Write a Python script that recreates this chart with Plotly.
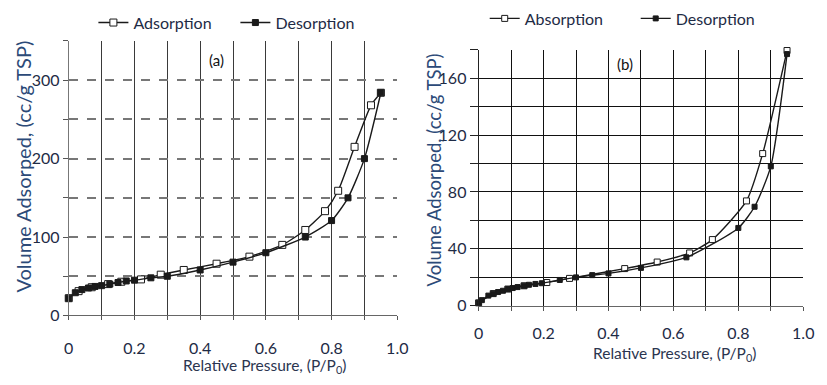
import plotly.graph_objects as go

# ---- Panel (a) data ----
a_ads_x = [0.0, 0.03, 0.07, 0.12, 0.16, 0.22, 0.28, 0.35, 0.45, 0.55, 0.65, 0.72, 0.78, 0.82, 0.87, 0.92, 0.95]
a_ads_y = [22, 31, 36, 40, 43, 46, 52, 58, 66, 75, 90, 109, 133, 159, 215, 268, 284]
a_des_x = [0.0, 0.02, 0.04, 0.06, 0.08, 0.1, 0.125, 0.15, 0.175, 0.2, 0.25, 0.3, 0.4, 0.5, 0.6, 0.72, 0.8, 0.85, 0.9, 0.95]
a_des_y = [22, 29, 33, 35, 37, 38, 40, 42, 44, 45, 48, 50, 58, 68, 80, 100, 121, 150, 200, 284]

# ---- Panel (b) data ----
b_ads_x = [0.0, 0.045, 0.09, 0.14, 0.21, 0.28, 0.45, 0.55, 0.65, 0.72, 0.825, 0.875, 0.95]
b_ads_y = [2, 8.5, 11.7, 14, 16.3, 19.2, 26.1, 30.7, 37.1, 46.5, 73.7, 107, 179.5]
b_des_x = [0.0, 0.01, 0.03, 0.045, 0.06, 0.075, 0.09, 0.105, 0.12, 0.14, 0.155, 0.175, 0.195, 0.25, 0.3, 0.35, 0.4, 0.5, 0.64, 0.8, 0.85, 0.9, 0.95]
b_des_y = [2, 3.9, 7.1, 8.5, 9.6, 10.5, 11.7, 12.4, 13.1, 14, 14.7, 15.3, 15.8, 18.1, 19.9, 21.5, 22.7, 26.6, 34, 54.7, 69.6, 98, 177]

x_ticks = [0, 0.1, 0.2, 0.3, 0.4, 0.5, 0.6, 0.7, 0.8, 0.9, 1.0]
x_labels = ["0", "", "0.2", "", "0.4", "", "0.6", "", "0.8", "", "1.0"]
a_yticks = [0, 50, 100, 150, 200, 250, 300, 350]
a_ylabels = ["0", "", "100", "", "200", "", "300", ""]
b_yticks = [0, 20, 40, 60, 80, 100, 120, 140, 160, 180]
b_ylabels = ["0", "", "40", "", "80", "", "120", "", "160", ""]

y_title = "Volume Adsorped, (cc/g TSP)"
x_title = "Relative Pressure, (P/P<sub>0</sub>)"

FONT = "Lato, Open Sans, sans-serif"
LINE = "#1a1a1a"
TXT = "#1e2b45"
TITLE = "#2c4a78"

fig = go.Figure()

def add(x, y, name, filled, xa, ya, legend, size):
    fig.add_trace(go.Scatter(
        x=x, y=y, name=name, mode="lines+markers", xaxis=xa, yaxis=ya, legend=legend,
        line=dict(color=LINE, width=1.4, shape="spline", smoothing=0.6),
        marker=dict(symbol="square", size=size if filled else size + 1,
                    color=LINE if filled else "white", line=dict(color=LINE, width=1)),
        cliponaxis=False))

add(a_ads_x, a_ads_y, "Adsorption", False, "x", "y", "legend", 6)
add(a_des_x, a_des_y, "Desorption", True, "x", "y", "legend", 6)
add(b_ads_x, b_ads_y, "Absorption", False, "x2", "y2", "legend2", 5)
add(b_des_x, b_des_y, "Desorption", True, "x2", "y2", "legend2", 5)

tickfont = dict(family=FONT, size=16, color=TXT)

common_x = dict(range=[0, 1.0], tickvals=x_ticks, ticktext=x_labels, ticks="outside", ticklen=4,
                tickcolor="#555", showline=True, linecolor="#666", zeroline=False, tickfont=tickfont)

fig.update_layout(
    width=827, height=385, margin=dict(l=0, r=0, t=0, b=0),
    paper_bgcolor="white", plot_bgcolor="white",
    xaxis=dict(domain=[0.0786, 0.4837], anchor="y", showgrid=True, gridcolor="#3a3a3a", gridwidth=1.3,
               ticklabelstandoff=14, **common_x),
    yaxis=dict(domain=[0.161, 0.891], anchor="x", range=[0, 350], tickvals=a_yticks, ticktext=a_ylabels,
               ticks="outside", ticklen=5, tickcolor="#555", showline=True, linecolor="#777",
               showgrid=True, gridcolor="#777", griddash="dash", gridwidth=1.5, zeroline=False,
               tickfont=tickfont),
    xaxis2=dict(domain=[0.584, 0.9843], anchor="y2", showgrid=True, gridcolor="#111", gridwidth=1.2,
                ticklabelstandoff=9, **common_x),
    yaxis2=dict(domain=[0.187, 0.8675], anchor="x2", range=[0, 180], tickvals=b_yticks, ticktext=b_ylabels,
                ticks="outside", ticklen=8, tickcolor="#222", showline=True, linecolor="#222",
                showgrid=True, gridcolor="#111", gridwidth=1.2, zeroline=False, tickfont=tickfont),
    legend=dict(orientation="h", x=0.109, y=0.985, xanchor="left", yanchor="top",
                font=dict(family=FONT, size=16, color=TXT), itemwidth=30, entrywidth=97,
                bgcolor="rgba(0,0,0,0)"),
    legend2=dict(orientation="h", x=0.5915, y=0.996, xanchor="left", yanchor="top",
                 font=dict(family=FONT, size=16, color=TXT), itemwidth=30, entrywidth=106,
                 bgcolor="rgba(0,0,0,0)"),
    annotations=[
        dict(text="(a)", x=0.45, y=326, xref="x", yref="y", showarrow=False,
             font=dict(family=FONT, size=15, color="#111")),
        dict(text="(b)", x=0.45, y=170, xref="x2", yref="y2", showarrow=False,
             font=dict(family=FONT, size=15, color="#111")),
        dict(text=y_title, textangle=-90, x=0.0218, y=0.556, xref="paper", yref="paper",
             xanchor="center", yanchor="middle", showarrow=False,
             font=dict(family=FONT, size=20, color=TITLE)),
        dict(text=y_title, textangle=-90, x=437 / 827, y=0.548, xref="paper", yref="paper",
             xanchor="center", yanchor="middle", showarrow=False,
             font=dict(family=FONT, size=18.5, color=TITLE)),
        dict(text=x_title, x=0.597, y=0.026, xref="x", yref="paper", xanchor="center", yanchor="middle",
             showarrow=False, font=dict(family=FONT, size=15.5, color="#2b3550")),
        dict(text=x_title, x=0.604, y=0.058, xref="x2", yref="paper", xanchor="center", yanchor="middle",
             showarrow=False, font=dict(family=FONT, size=15.5, color="#2b3550")),
    ],
)

fig.write_html("out.html")
